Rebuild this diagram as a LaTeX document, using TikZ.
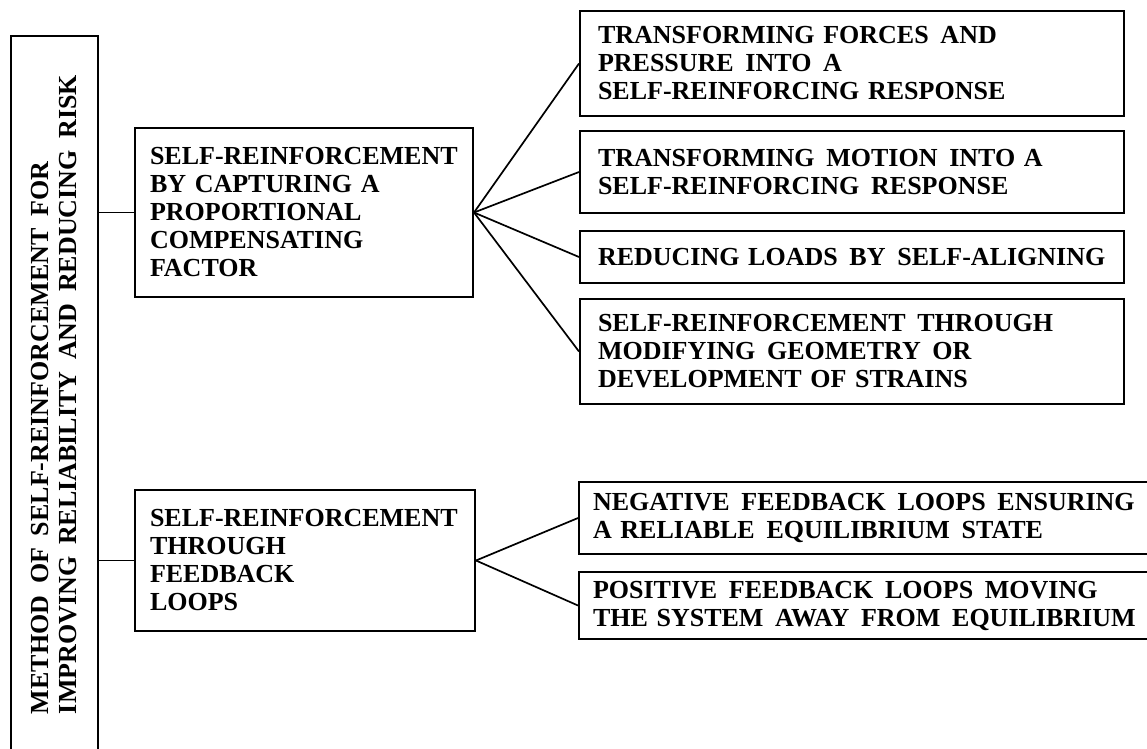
\documentclass[tikz,border=0pt]{standalone}
\usepackage{fontspec}
\setmainfont{Liberation Serif}
\usetikzlibrary{calc,positioning}
\newcommand{\gap}{\hspace{0.45em}}
\tikzset{
  boks/.style={rectangle,draw,line width=2pt,anchor=north west,align=left,inner ysep=0pt,
    font=\bfseries\fontsize{26}{28}\selectfont},
  rboks/.style={boks,text width=508,inner xsep=18}
}

\begin{document}
\begin{tikzpicture}[x=1pt,y=-1pt,line width=1.7pt]
    \useasboundingbox (0,0) rectangle (1147,748);
    \node (ROOT) at (54.5,394.5) [boks,anchor=center,rotate=90,minimum width=717,minimum height=87,inner xsep=0pt] {METHOD\gap OF\gap SELF-REINFORCEMENT\gap FOR\\IMPROVING\gap RELIABILITY\gap AND\gap REDUCING\gap RISK};
    \node (M1) at (134,127) [boks,text width=308,inner xsep=15,minimum height=169] {SELF-REINFORCEMENT\\BY CAPTURING A\\PROPORTIONAL\\COMPENSATING\\FACTOR};
    \node (M2) at (134,489) [boks,text width=310,inner xsep=15,minimum height=141] {SELF-REINFORCEMENT\\THROUGH\\FEEDBACK\\LOOPS};

    \node (A) at (579,10) [rboks,minimum height=105] {TRANSFORMING FORCES\gap AND\\PRESSURE\gap INTO\gap A\\SELF-REINFORCING RESPONSE};
    \node (B) at ($(A.south west) + (0,13)$) [rboks,minimum height=82] {TRANSFORMING\gap MOTION\gap INTO A\\SELF-REINFORCING\gap RESPONSE};
    \node (C) at ($(B.south west) + (0,16)$) [rboks,minimum height=52] {REDUCING LOADS\gap BY\gap SELF-ALIGNING};
    \node (D) at ($(C.south west) + (0,14)$) [rboks,minimum height=105] {SELF-REINFORCEMENT\gap THROUGH\\MODIFYING\gap GEOMETRY\gap OR\\DEVELOPMENT OF STRAINS};

    \node (E) at (578,481) [boks,text width=554,inner xsep=14,minimum height=72] {NEGATIVE\gap FEEDBACK\gap LOOPS\gap ENSURING\\A RELIABLE\gap EQUILIBRIUM\gap STATE};
    \node (F) at ($(E.south west) + (0,16)$) [boks,text width=554,inner xsep=14,minimum height=67] {POSITIVE\gap FEEDBACK\gap LOOPS\gap MOVING\\THE SYSTEM\gap AWAY\gap FROM\gap EQUILIBRIUM};

    \draw (M1.west -| ROOT.south) -- (M1.west);
    \draw (M2.west -| ROOT.south) -- (M2.west);
    \foreach \n in {A,B,C,D}
        \draw (M1.east) -- (\n.west);
    \foreach \n in {E,F}
        \draw (M2.east) -- (\n.west);

\end{tikzpicture}
\end{document}
